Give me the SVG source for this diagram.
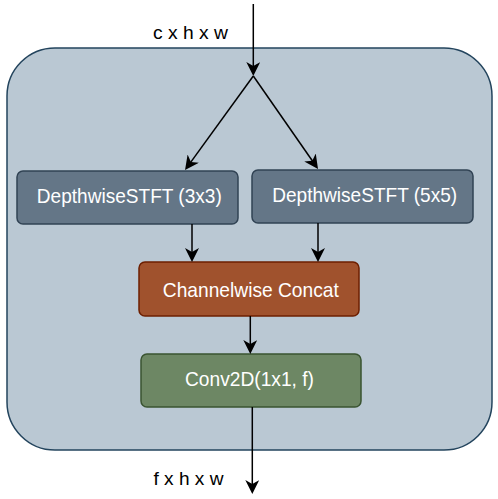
<svg xmlns="http://www.w3.org/2000/svg" width="498" height="499" viewBox="0 0 498 499">
  <defs>
    <marker id="arrow" markerUnits="userSpaceOnUse" markerWidth="16" markerHeight="16" refX="11" refY="7" orient="auto">
      <path d="M0,0 L14,7 L0,14 L4,7 Z" fill="#000000"/>
    </marker>
  </defs>
  <style>
    .lbl { font-family: "Liberation Sans", Arial, sans-serif; fill: #000000; }
    .nt { font-family: "Liberation Sans", Arial, sans-serif; fill: #ffffff; font-size: 21px; text-anchor: middle; }
    .edge { stroke: #000000; stroke-width: 1.5; fill: none; marker-end: url(#arrow); }
    .dw { fill: #647687; stroke: #314354; stroke-width: 1.5; }
  </style>
  <rect width="498" height="499" fill="#ffffff"/>
  <g id="container">
    <rect x="7" y="48" width="485" height="402" rx="48" ry="48" fill="#bac8d3" stroke="#23445d" stroke-width="1.5"/>
  </g>
  <g id="label-in">
    <text class="lbl" x="153" y="38.5" font-size="19" textLength="75" lengthAdjust="spacingAndGlyphs">c x h x w</text>
  </g>
  <g id="label-out">
    <text class="lbl" x="153.5" y="485" font-size="19" textLength="70" lengthAdjust="spacingAndGlyphs">f x h x w</text>
  </g>
  <g id="dw3">
    <rect class="dw" x="17" y="171" width="221" height="53" rx="6" ry="6"/>
    <text class="nt" x="129.3" y="203" textLength="185" lengthAdjust="spacingAndGlyphs">DepthwiseSTFT (3x3)</text>
  </g>
  <g id="dw5">
    <rect class="dw" x="252" y="170" width="221" height="53" rx="6" ry="6"/>
    <text class="nt" x="364.7" y="202" textLength="185" lengthAdjust="spacingAndGlyphs">DepthwiseSTFT (5x5)</text>
  </g>
  <g id="concat">
    <rect x="139" y="262" width="220" height="54" rx="6" ry="6" fill="#a0522d" stroke="#6d1f00" stroke-width="1.5"/>
    <text class="nt" x="250.8" y="296.7" textLength="176" lengthAdjust="spacingAndGlyphs">Channelwise Concat</text>
  </g>
  <g id="conv">
    <rect x="141" y="354" width="220" height="53" rx="6" ry="6" fill="#6d8764" stroke="#3a5431" stroke-width="1.5"/>
    <text class="nt" x="249.5" y="385.7" textLength="129" lengthAdjust="spacingAndGlyphs">Conv2D(1x1, f)</text>
  </g>
  <g id="connectors">
    <path class="edge" d="M253.3,4 L253.3,73"/>
    <path class="edge" d="M253.3,76 L186.8,167.6"/>
    <path class="edge" d="M253.3,76 L316.3,166.5"/>
    <path class="edge" d="M192,224 L192,259"/>
    <path class="edge" d="M318,223 L318,259"/>
    <path class="edge" d="M250.3,316 L250.3,351"/>
    <path class="edge" d="M252.3,407 L252.3,491"/>
  </g>
</svg>
